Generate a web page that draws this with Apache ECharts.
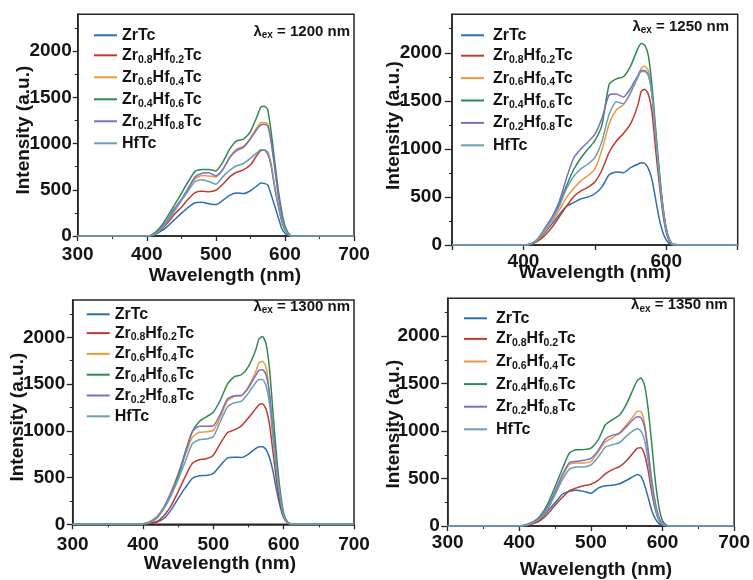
<!DOCTYPE html>
<html><head><meta charset="utf-8">
<script src="https://cdn.jsdelivr.net/npm/echarts@6/dist/echarts.min.js"></script>
<style>html,body{margin:0;padding:0;background:#fff;}#c{width:753px;height:580px;}</style>
</head><body><div id="c"></div>
<script>
// ---------- DATA ----------
const wavelengths = [300,350,400,410,420,430,440,450,460,470,480,490,500,510,520,530,540,550,560,565,570,575,580,585,590,595,600,605,610,650,700];
const seriesNames = ['ZrTc','Zr0.8Hf0.2Tc','Zr0.6Hf0.4Tc','Zr0.4Hf0.6Tc','Zr0.2Hf0.8Tc','HfTc'];
const excitations = ['1200','1250','1300','1350'];
const yTickValues = [0,500,1000,1500,2000];

// λex = 1200 nm
const p1_ZrTc = [0,0, 0,10,50,105,175,245,310,360,365,350,340,385,440,465,460,490,545,575,570,553,450,330,210,90,30,8,0, 0,0];
const p1_Zr08 = [0,0, 0,12,65,140,235,310,400,470,485,480,495,560,640,690,715,770,880,925,930,890,760,530,340,170,65,18,0, 0,0];
const p1_Zr06 = [0,0, 0,15,80,170,290,390,510,620,655,650,640,720,850,940,970,1060,1180,1225,1230,1215,1040,760,470,250,90,25,0, 0,0];
const p1_Zr04 = [0,0, 0,25,100,210,335,460,590,700,720,720,705,800,940,1030,1050,1130,1300,1395,1405,1370,1130,820,520,280,110,30,0, 0,0];
const p1_Zr02 = [0,0, 0,15,80,175,295,395,520,640,680,685,650,720,850,925,960,1050,1160,1200,1210,1190,1020,750,465,245,88,25,0, 0,0];
const p1_HfTc = [0,0, 0,12,70,160,270,380,490,590,610,590,560,640,710,760,785,840,905,935,935,910,780,550,355,185,72,20,0, 0,0];

// λex = 1250 nm
const p2_ZrTc = [0,0, 0,5,50,130,220,315,400,440,478,498,533,605,730,760,752,805,840,855,848,795,680,480,280,135,50,12,0, 0,0];
const p2_Zr08 = [0,0, 0,10,40,100,185,290,400,500,560,600,655,780,965,1080,1160,1260,1450,1600,1620,1565,1380,1000,650,340,130,30,5, 0,0];
const p2_Zr06 = [0,0, 0,10,55,145,240,360,490,585,665,720,790,990,1260,1405,1460,1580,1750,1840,1860,1810,1590,1160,760,410,170,45,5, 0,0];
const p2_Zr04 = [0,0, 0,10,60,170,280,420,610,780,900,995,1085,1250,1670,1728,1750,1860,2040,2095,2080,1965,1660,1220,790,420,170,45,5, 0,0];
const p2_Zr02 = [0,0, 0,10,65,175,290,450,690,900,995,1070,1150,1320,1560,1570,1540,1630,1760,1815,1815,1770,1570,1150,745,400,160,40,5, 0,0];
const p2_HfTc = [0,0, 0,10,60,160,265,400,580,710,790,840,910,1080,1360,1490,1470,1590,1740,1805,1805,1760,1560,1140,740,400,160,40,5, 0,0];

// λex = 1300 nm
const p3_ZrTc = [0,0, 5,10,25,65,155,275,390,490,520,522,545,630,710,718,715,752,810,830,830,800,710,560,360,190,70,20,5, 0,0];
const p3_Zr08 = [0,0, 5,12,30,95,200,350,510,650,690,702,740,865,980,1010,1053,1140,1235,1280,1290,1230,1060,760,460,230,80,20,5, 0,0];
const p3_Zr06 = [0,0, 5,30,85,190,350,540,740,930,985,990,1005,1150,1320,1370,1378,1478,1630,1730,1745,1680,1400,990,610,310,100,25,5, 0,0];
const p3_Zr04 = [0,0, 5,20,70,180,330,530,770,990,1100,1150,1200,1330,1500,1580,1600,1690,1860,1985,2010,1930,1650,1180,720,360,120,30,5, 0,0];
const p3_Zr02 = [0,0, 5,25,80,185,340,500,760,990,1050,1050,1055,1180,1340,1375,1380,1460,1590,1650,1655,1600,1380,970,600,300,95,25,5, 0,0];
const p3_HfTc = [0,0, 5,20,70,170,310,480,670,860,905,912,940,1100,1255,1300,1318,1405,1515,1550,1550,1480,1280,900,560,290,90,22,5, 0,0];

// λex = 1350 nm
const p4_ZrTc = [0,0, 0,8,30,75,160,245,335,365,378,365,345,400,425,430,445,482,525,542,520,430,300,160,75,25,8,2,0, 0,0];
const p4_Zr08 = [0,0, 0,8,25,62,130,220,300,372,402,424,440,480,550,595,625,690,780,820,825,750,580,350,170,60,15,3,0, 0,0];
const p4_Zr06 = [0,0, 0,12,40,90,200,350,520,650,664,665,680,780,885,930,985,1070,1165,1210,1205,1080,800,480,240,90,25,5,0, 0,0];
const p4_Zr04 = [0,0, 0,15,45,115,240,415,600,770,804,805,820,905,1065,1120,1170,1290,1460,1535,1560,1480,1230,860,470,200,55,12,0, 0,0];
const p4_Zr02 = [0,0, 0,12,45,95,210,365,540,670,682,692,712,795,915,958,975,1050,1130,1152,1140,1040,780,470,235,88,25,5,0, 0,0];
const p4_HfTc = [0,0, 0,10,35,85,180,330,485,600,622,622,645,725,830,857,880,950,1010,1025,1000,900,680,400,190,65,18,4,0, 0,0];

// ---------- STYLE / LAYOUT ----------
const FONT = '"Liberation Sans", Arial, sans-serif';
const TXT = '#141414';
const AX = '#262626';
const colors = ['#2c6fb0','#c23b30','#ec9a3c','#2e8b4f','#7d6fbf','#6c9fb6'];
const richName = {
  'ZrTc': '{n|ZrTc}',
  'Zr0.8Hf0.2Tc': '{n|Zr}{s|0.8}{n|Hf}{s|0.2}{n|Tc}',
  'Zr0.6Hf0.4Tc': '{n|Zr}{s|0.6}{n|Hf}{s|0.4}{n|Tc}',
  'Zr0.4Hf0.6Tc': '{n|Zr}{s|0.4}{n|Hf}{s|0.6}{n|Tc}',
  'Zr0.2Hf0.8Tc': '{n|Zr}{s|0.2}{n|Hf}{s|0.8}{n|Tc}',
  'HfTc': '{n|HfTc}'
};

const panels = [
  { data:[p1_ZrTc,p1_Zr08,p1_Zr06,p1_Zr04,p1_Zr02,p1_HfTc],
    grid:{left:77.7, top:14.3, width:276.3, height:221.7},
    legend:{left:94, top:27.3, itemGap:4.0, textPad:0},
    ann:{x:350, y:31.7}, xMargin:9, xNameGap:30, xNamePad:[0,0,0,18],
    yMargin:6, yTick:5, yNameGap:44, yNamePad:[0,10,0,0], xOnly:null },
  { data:[p2_ZrTc,p2_Zr08,p2_Zr06,p2_Zr04,p2_Zr02,p2_HfTc],
    grid:{left:452, top:14.3, width:285.7, height:230.7},
    legend:{left:461, top:27.3, itemGap:4.4, textPad:4},
    ann:{x:729, y:26.7}, xMargin:7, xNameGap:18, xNamePad:[0,0,0,0],
    yMargin:10, yTick:7, yNameGap:49, yNamePad:[0,0,0,8], xOnly:[400,600] },
  { data:[p3_ZrTc,p3_Zr08,p3_Zr06,p3_Zr04,p3_Zr02,p3_HfTc],
    grid:{left:72.7, top:300, width:281.3, height:224.3},
    legend:{left:86.7, top:306.3, itemGap:2.8, textPad:0},
    ann:{x:350, y:306.7}, xMargin:11, xNameGap:30, xNamePad:[0,0,0,13],
    yMargin:7.5, yTick:6, yNameGap:45, yNamePad:[0,10,0,0], xOnly:null },
  { data:[p4_ZrTc,p4_Zr08,p4_Zr06,p4_Zr04,p4_Zr02,p4_HfTc],
    grid:{left:447.7, top:298.3, width:286.6, height:229.4},
    legend:{left:464, top:310.3, itemGap:4.6, textPad:4},
    ann:{x:727.7, y:305}, xMargin:7, xNameGap:34, xNamePad:[0,0,0,10],
    yMargin:8, yTick:6.5, yNameGap:44, yNamePad:[0,24,0,0], xOnly:null }
];

const labelFont = {fontSize:19, fontWeight:'bold', color:TXT, fontFamily:FONT};

const option = {
  animation:false,
  backgroundColor:'#ffffff',
  grid: panels.map(p => Object.assign({show:true, borderColor:AX, borderWidth:1.5, backgroundColor:'transparent'}, p.grid)),
  xAxis: panels.map((p,i) => ({
    gridIndex:i, type:'value', min:300, max:700, interval:100,
    axisLine:{show:true, onZero:false, lineStyle:{color:AX, width:1.5}},
    axisTick:{show:true, inside:false, length:5, lineStyle:{color:AX, width:1.3}},
    minorTick:{show:!p.xOnly, splitNumber:2, length:3, lineStyle:{color:AX, width:1}},
    splitLine:{show:false}, minorSplitLine:{show:false},
    axisLabel:Object.assign({margin:p.xMargin, formatter:(v)=> (p.xOnly && p.xOnly.indexOf(v)<0) ? '' : String(v)}, labelFont),
    name:'Wavelength (nm)', nameLocation:'middle', nameGap:p.xNameGap, nameMoveOverlap:false,
    nameTextStyle:Object.assign({padding:p.xNamePad}, labelFont)
  })),
  yAxis: panels.map((p,i) => ({
    gridIndex:i, type:'value', min:0, max:2400, interval:500,
    axisLine:{show:true, onZero:false, lineStyle:{color:AX, width:1.5}},
    axisTick:{show:true, inside:false, length:p.yTick, customValues:yTickValues, lineStyle:{color:AX, width:1.3}},
    minorTick:{show:true, splitNumber:2, length:3, lineStyle:{color:AX, width:1}},
    splitLine:{show:false}, minorSplitLine:{show:false},
    axisLabel:Object.assign({margin:p.yMargin, customValues:yTickValues, formatter:(v)=> v>2000 ? '' : String(v)}, labelFont),
    name:'Intensity (a.u.)', nameLocation:'middle', nameGap:p.yNameGap, nameMoveOverlap:false,
    nameTextStyle:Object.assign({padding:p.yNamePad}, labelFont)
  })),
  legend: panels.map(p => ({
    orient:'vertical', left:p.legend.left, top:p.legend.top, padding:0,
    itemGap:p.legend.itemGap, itemWidth:23, itemHeight:2, icon:'rect',
    selectedMode:false, data:seriesNames,
    formatter:(name)=>richName[name],
    textStyle:{fontFamily:FONT, fontWeight:'bold', fontSize:16, color:TXT, padding:[0,0,0,p.legend.textPad],
      rich:{
        n:{fontFamily:FONT, fontWeight:'bold', fontSize:16, color:TXT, lineHeight:20},
        s:{fontFamily:FONT, fontWeight:'bold', fontSize:10.5, color:TXT, lineHeight:10, verticalAlign:'bottom'}
      }}
  })),
  graphic: panels.map((p,i) => ({
    type:'text', x:p.ann.x, y:p.ann.y, z:100,
    style:{
      text:'{a|λ}{b|ex}{a| = ' + excitations[i] + ' nm}',
      align:'right', verticalAlign:'middle',
      rich:{
        a:{fontFamily:FONT, fontWeight:'bold', fontSize:15, fill:TXT, lineHeight:18},
        b:{fontFamily:FONT, fontWeight:'bold', fontSize:10, fill:TXT, lineHeight:10, verticalAlign:'bottom'}
      }
    }
  })),
  series: []
};

panels.forEach((p,i) => {
  p.data.forEach((arr,j) => {
    option.series.push({
      type:'line', name:seriesNames[j], xAxisIndex:i, yAxisIndex:i,
      data: wavelengths.map((w,k) => [w, arr[k]]),
      showSymbol:false, symbol:'none', smooth:0.2, clip:true,
      lineStyle:{width:1.5, color:colors[j]}, itemStyle:{color:colors[j]}
    });
  });
});

const chart = echarts.init(document.getElementById('c'), null, {renderer:'canvas'});
chart.setOption(option);
</script></body></html>
